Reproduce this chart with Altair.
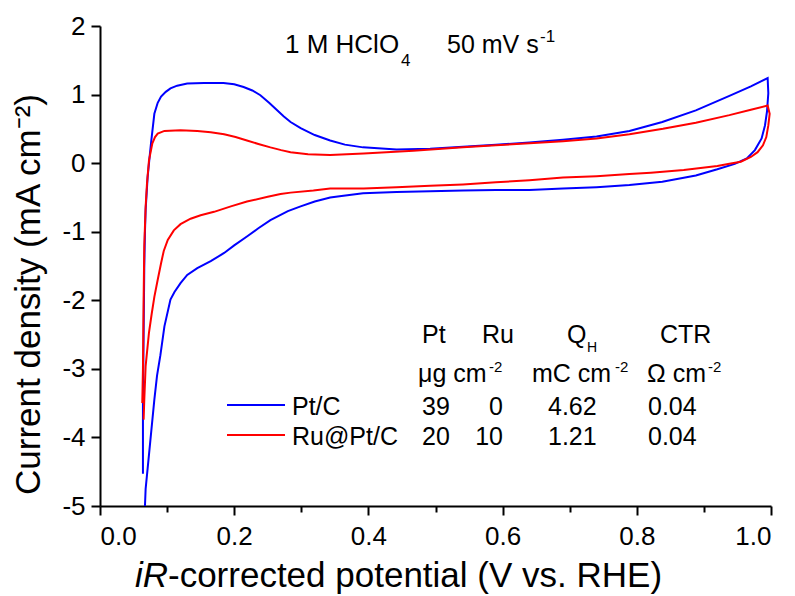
import altair as alt
import pandas as pd

FONT = "Liberation Sans"

# Cyclic voltammograms, E in V vs. RHE and j in mA cm^-2.
# Each loop runs from the lower vertex up to 1.0 V (anodic) and back (cathodic).
pt_e = [0.064, 0.064, 0.065, 0.066, 0.067, 0.068, 0.071, 0.074, 0.076, 0.081,
        0.086, 0.091, 0.098, 0.105, 0.115, 0.130, 0.155, 0.184, 0.200, 0.214,
        0.227, 0.239, 0.252, 0.264, 0.274, 0.284, 0.299, 0.320, 0.343, 0.365,
        0.392, 0.442, 0.492, 0.541, 0.590, 0.640, 0.690, 0.740, 0.789, 0.838,
        0.888, 0.938, 0.970, 0.995,
        0.996, 0.994, 0.991, 0.986, 0.976, 0.964, 0.946, 0.920, 0.888, 0.838,
        0.789, 0.740, 0.690, 0.640, 0.590, 0.541, 0.492, 0.442, 0.392, 0.360,
        0.343, 0.320, 0.299, 0.280, 0.254, 0.236, 0.219, 0.200, 0.185, 0.165,
        0.145, 0.130, 0.120, 0.111, 0.105, 0.096, 0.090, 0.085, 0.081, 0.075,
        0.071, 0.068, 0.067]
pt_j = [-4.53, -3.50, -2.50, -1.50, -1.00, -0.68, -0.20, 0.10, 0.29, 0.72,
        0.88, 0.97, 1.04, 1.09, 1.13, 1.16, 1.17, 1.17, 1.15, 1.11,
        1.06, 0.99, 0.88, 0.77, 0.68, 0.60, 0.51, 0.41, 0.33, 0.27,
        0.23, 0.20, 0.21, 0.24, 0.27, 0.30, 0.34, 0.39, 0.47, 0.60,
        0.77, 0.98, 1.12, 1.24,
        1.02, 0.75, 0.55, 0.36, 0.19, 0.07, -0.01, -0.09, -0.18, -0.27,
        -0.32, -0.35, -0.37, -0.39, -0.39, -0.40, -0.41, -0.42, -0.44, -0.48,
        -0.50, -0.56, -0.63, -0.70, -0.83, -0.95, -1.07, -1.20, -1.31, -1.43,
        -1.53, -1.63, -1.75, -1.88, -1.99, -2.38, -2.80, -3.10, -3.45, -4.05,
        -4.45, -4.75, -5.00]

ru_e = [0.063, 0.064, 0.065, 0.066, 0.068, 0.070, 0.073, 0.078, 0.082, 0.086,
        0.096, 0.120, 0.145, 0.165, 0.185, 0.202, 0.219, 0.236, 0.254, 0.270,
        0.284, 0.310, 0.343, 0.393, 0.467, 0.541, 0.590, 0.640, 0.690, 0.740,
        0.789, 0.839, 0.888, 0.938, 0.970, 0.995,
        0.998, 0.996, 0.993, 0.988, 0.980, 0.970, 0.955, 0.938, 0.920, 0.870,
        0.821, 0.789, 0.740, 0.690, 0.640, 0.590, 0.541, 0.492, 0.442, 0.393,
        0.343, 0.318, 0.284, 0.269, 0.250, 0.219, 0.195, 0.170, 0.150, 0.135,
        0.120, 0.110, 0.101, 0.095, 0.091, 0.086, 0.081, 0.077, 0.073, 0.068,
        0.066, 0.065]
ru_j = [-3.50, -3.00, -2.00, -1.20, -0.64, -0.30, 0.04, 0.29, 0.38, 0.43,
        0.47, 0.48, 0.47, 0.45, 0.42, 0.38, 0.33, 0.28, 0.23, 0.19,
        0.16, 0.13, 0.12, 0.14, 0.18, 0.23, 0.26, 0.29, 0.32, 0.36,
        0.42, 0.50, 0.59, 0.70, 0.78, 0.84,
        0.72, 0.55, 0.38, 0.26, 0.16, 0.09, 0.02, -0.01, -0.04, -0.10,
        -0.14, -0.16, -0.19, -0.21, -0.25, -0.28, -0.31, -0.33, -0.35, -0.37,
        -0.37, -0.40, -0.43, -0.45, -0.49, -0.56, -0.63, -0.71, -0.76, -0.81,
        -0.89, -0.98, -1.12, -1.28, -1.46, -1.70, -1.95, -2.20, -2.47, -2.96,
        -3.45, -3.74]

samples = ["Pt/C", "Ru@Pt/C"]
colors = ["#0000ff", "#ff0000"]

# Catalyst loadings and characterisation
pt_loading = [39, 20]     # ug cm^-2
ru_loading = [0, 10]      # ug cm^-2
q_h = [4.62, 1.21]        # mC cm^-2
ctr = [0.04, 0.04]        # Ohm cm^-2

x_ticks = [0.0, 0.1, 0.2, 0.3, 0.4, 0.5, 0.6, 0.7, 0.8, 0.9, 1.0]
y_ticks = [-5, -4, -3, -2, -1, 0, 1, 2]


def loop_frame(name, e, j):
    return pd.DataFrame({"sample": name, "step": range(len(e)), "E": e, "j": j})


cv = pd.concat([loop_frame(samples[0], pt_e, pt_j),
                loop_frame(samples[1], ru_e, ru_j)], ignore_index=True)

major = "round(datum.value * 10) % 2 == 0"

x_enc = alt.X(
    "E:Q",
    scale=alt.Scale(domain=[0, 1.0], nice=False, zero=False),
    axis=alt.Axis(
        values=x_ticks,
        labelExpr=f"{major} ? format(datum.value, '.1f') : ''",
        tickSize={"condition": {"test": major, "value": 9}, "value": 6},
        labelPadding=8,
        title=None,
    ),
)
y_enc = alt.Y(
    "j:Q",
    scale=alt.Scale(domain=[-5, 2], nice=False),
    axis=alt.Axis(
        values=y_ticks,
        labelExpr="datum.value < 0 ? '-' + abs(datum.value) : '' + datum.value",
        tickSize=9,
        labelPadding=6,
        title="Current density (mA cm\u207b\u00b2)",
        titleFontSize=35,
        titleFontWeight="normal",
        titleColor="black",
        titleAngle=270,
        titleAlign="center",
        titleBaseline="alphabetic",
        titleX=-61,
        titleY=268,
    ),
)
color_enc = alt.Color("sample:N", scale=alt.Scale(domain=samples, range=colors), legend=None)

base = alt.Chart(cv).mark_line(strokeWidth=2, clip=True).encode(
    x=x_enc, y=y_enc, color=color_enc, order="step:Q"
)
pt_line = base.transform_filter(alt.datum.sample == samples[0])
ru_line = base.transform_filter(alt.datum.sample == samples[1])


def note(text, x, y, size, align="left", style="normal"):
    return alt.Chart(pd.DataFrame({"t": [text]})).mark_text(
        align=align, baseline="alphabetic", font=FONT, fontSize=size,
        fontStyle=style, color="black",
    ).encode(x=alt.value(x), y=alt.value(y), text="t:N")


def key_line(color, y):
    return alt.Chart(pd.DataFrame({"k": [0]})).mark_rule(
        color=color, strokeWidth=2
    ).encode(x=alt.value(127), x2=alt.value(185), y=alt.value(y))


texts = [
    # electrolyte and scan rate
    note("1 M HClO", 185, 27, 26),
    note("4", 301, 40, 17),
    note("50 mV s", 347, 27, 25),
    note("-1", 440, 16, 17),
    # x axis title
    note("iR", 68, 561, 35, align="right", style="italic"),
    note("-corrected potential (V vs. RHE)", 68, 561, 35),
    # table header
    note("Pt", 322, 317, 25),
    note("Ru", 382, 317, 25),
    note("Q", 467, 317, 25),
    note("H", 487, 326, 14),
    note("CTR", 560, 317, 25),
    note("\u03bcg cm", 318, 356, 25),
    note("-2", 389, 346, 15),
    note("mC cm", 432, 356, 25),
    note("-2", 515, 346, 15),
    note("\u03a9 cm", 547, 356, 25),
    note("-2", 608, 346, 15),
]

row_y = [389, 419]
legend = []
for k, name in enumerate(samples):
    legend.append(key_line(colors[k], row_y[k] - 10))
    legend.append(note(name, 192, row_y[k], 25))
    legend.append(note(str(pt_loading[k]), 322, row_y[k], 25))
    legend.append(note(str(ru_loading[k]), 403, row_y[k], 25, align="right"))
    legend.append(note(f"{q_h[k]:.2f}", 448, row_y[k], 25))
    legend.append(note(f"{ctr[k]:.2f}", 548, row_y[k], 25))

chart = alt.layer(pt_line, ru_line, *texts, *legend).properties(
    width=671,
    height=480,
    padding={"left": 100, "top": 26, "right": 24, "bottom": 90},
    autosize=alt.AutoSizeParams(type="none"),
).configure_view(stroke=None).configure_axis(
    domainColor="black",
    domainWidth=2,
    tickColor="black",
    tickWidth=2,
    grid=False,
    labelFont=FONT,
    labelFontSize=26,
    labelColor="black",
    titleFont=FONT,
)

chart.save("out.html", embed_options={"renderer": "svg", "actions": False})
